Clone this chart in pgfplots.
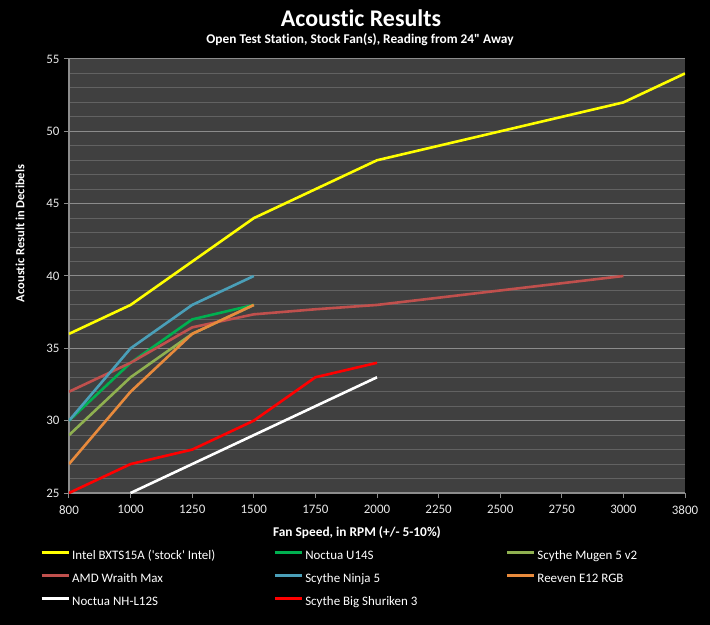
\documentclass[border=0pt]{standalone}
\usepackage{fontspec}
\setmainfont{Carlito}[Ligatures={NoCommon}]
\usepackage{pgfplots}
\pgfplotsset{compat=1.18}

\definecolor{plotbg}{HTML}{404040}
\definecolor{majgrid}{HTML}{8C8C8C}
\definecolor{mingrid}{HTML}{626262}
\definecolor{ticktext}{HTML}{E8E8E8}
\definecolor{cIntel}{HTML}{FFFF00}
\definecolor{cU14S}{HTML}{00B050}
\definecolor{cMugen}{HTML}{8FB050}
\definecolor{cAMD}{HTML}{C0504D}
\definecolor{cNinja}{HTML}{4A9FB8}
\definecolor{cReeven}{HTML}{E88A3C}
\definecolor{cL12S}{HTML}{FFFFFF}
\definecolor{cShuriken}{HTML}{FF0000}

\begin{document}
\begin{tikzpicture}
% black page behind everything (710 x 625)
\fill[black] (-69bp,-132bp) rectangle (641bp,493bp);
\node[text=white, font=\fontsize{24}{28}\selectfont\bfseries] at (292bp,475bp) {Acoustic Results};
\node[text=white, font=\fontsize{13.4}{16}\selectfont\bfseries] at (291bp,453bp) {Open Test Station, Stock Fan(s), Reading from 24\textquotedbl{} Away};
\begin{axis}[
    at={(0,0)}, anchor=south west,
    scale only axis, width=616bp, height=434bp,
    axis background/.style={fill=plotbg},
    xmin=0, xmax=10, ymin=25, ymax=55,
    xtick={0,1,2,3,4,5,6,7,8,9,10},
    xticklabels={800,1000,1250,1500,1750,2000,2250,2500,2750,3000,3800},
    ytick={25,30,35,40,45,50,55},
    minor y tick num=4,
    ymajorgrids, yminorgrids,
    major grid style={majgrid, line width=1bp},
    minor grid style={mingrid, line width=1bp},
    axis line style={majgrid, line width=1.2bp},
    tick style={majgrid, line width=1bp},
    major tick length=5bp, minor tick length=0pt,
    tick align=outside,
    axis x line*=bottom, axis y line*=left,
    ticklabel style={text=ticktext, font=\fontsize{13}{15}\selectfont},
    /pgf/number format/assume math mode=true,
    yticklabel style={xshift=-1bp},
    xticklabel style={yshift=-4bp},
    xlabel={Fan Speed, in RPM (+/- 5-10\%)},
    ylabel={Acoustic Result in Decibels},
    every axis x label/.style={at={(axis description cs:0.4675,0)}, anchor=center, yshift=-40bp, text=white, font=\fontsize{13.4}{15}\selectfont\bfseries},
    every axis y label/.style={at={(axis description cs:0,0.598)}, anchor=center, xshift=-49bp, rotate=90, text=white, font=\fontsize{12.5}{14}\selectfont\bfseries},
    legend columns=3,
    legend cell align=left,
    legend image code/.code={\draw[#1, line width=3bp] (0bp,3.5bp) -- (27bp,3.5bp);},
    legend style={at={(axis description cs:-0.0471,-0.131)}, anchor=north west,
        draw=none, fill=none, inner sep=0pt,
        nodes={inner sep=0pt, text=white, font=\fontsize{13}{15}\selectfont, text height=9bp, text depth=3bp},
        row sep=11bp,
        /tikz/column 1/.style={column sep=2bp},
        /tikz/column 2/.style={column sep=58bp},
        /tikz/column 3/.style={column sep=2bp},
        /tikz/column 4/.style={column sep=88bp},
        /tikz/column 5/.style={column sep=2bp}},
    every axis plot/.append style={line width=2.6bp, line join=round},
]
\addplot[cIntel] coordinates {(0,36) (1,38) (2,41) (3,44) (4,46) (5,48) (6,49) (7,50) (8,51) (9,52) (10,54)};
\addlegendentry{Intel BXTS15A (\textquotesingle stock\textquotesingle{} Intel)}
\addplot[cU14S] coordinates {(0,30) (1,34) (2,37) (3,38)};
\addlegendentry{Noctua U14S}
\addplot[cMugen] coordinates {(0,29) (1,33) (2,36) (3,38)};
\addlegendentry{Scythe Mugen 5 v2}
\addplot[cAMD] coordinates {(0,32) (1,34) (2,36.45) (3,37.35) (4,37.7) (5,38) (6,38.5) (7,39) (8,39.5) (9,40)};
\addlegendentry{AMD Wraith Max}
\addplot[cNinja] coordinates {(0,30) (1,35) (2,38) (3,40)};
\addlegendentry{Scythe Ninja 5}
\addplot[cReeven] coordinates {(0,27) (1,32) (2,36) (3,38)};
\addlegendentry{Reeven E12 RGB}
\addplot[cL12S] coordinates {(1,25) (2,27) (3,29) (4,31) (5,33)};
\addlegendentry{Noctua NH-L12S}
\addplot[cShuriken] coordinates {(0,25) (1,27) (2,28) (3,30) (4,33) (5,34)};
\addlegendentry{Scythe Big Shuriken 3}
\end{axis}
\end{tikzpicture}
\end{document}
